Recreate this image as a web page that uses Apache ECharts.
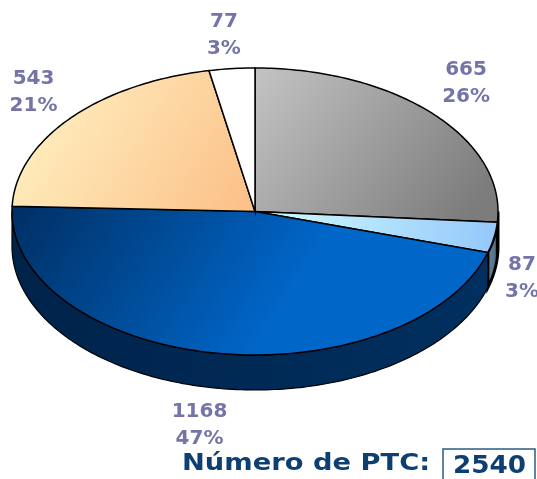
<!DOCTYPE html>
<html>
<head>
<meta charset="utf-8">
<style>html,body{margin:0;padding:0;background:#fff}#c{width:537px;height:479px}</style>
<script src="https://cdn.jsdelivr.net/npm/echarts@6/dist/echarts.min.js"></script>
</head>
<body>
<div id="c"></div>
<script>
const values = [665, 87, 1168, 543, 77];
const percents = ['26%', '3%', '47%', '21%', '3%'];
const totalLabel = 'Número de PTC:';
const totalValue = '2540';

const topColors = [['#c4c4c4', '#7c7c7c'], ['#d2fcff', '#94c8fa'], ['#002f63', '#0066c8'], ['#fff6c8', '#fcc088'], ['#ffffff', '#ffffff']];
const topVectors = [[0.85, 1], [1, 0.6], [0.5, 1], [0.95, 1], [1, 1]];
const wallColors = [['#000000', '#000000'], ['#6a8aa0', '#4a6478'], ['#00234a', '#003060'], ['#000', '#000'], ['#000', '#000']];
const wallStrokes = [3, 3, 1.2, 1.2, 1.2];
const labelOffsets = [[33, -31], [28, 41], [-16, 72], [-37, -26], [-8, -33]];

const sum = values.reduce((a, b) => a + b, 0);
const CX = 255, CY = 211.5, RX = 243, RY = 143.5, DEPTH = 35;
const pt = (deg, dy) => {
  const r = deg * Math.PI / 180;
  return [CX + RX * Math.sin(r), CY - RY * Math.cos(r) + (dy || 0)];
};
const arc = (a, b, dy) => {
  const out = [], n = Math.max(2, Math.ceil(Math.abs(b - a)));
  for (let i = 0; i <= n; i++) out.push(pt(a + (b - a) * i / n, dy));
  return out;
};
const grad = (c, v) => new echarts.graphic.LinearGradient(0, 0, v[0], v[1], [
  { offset: 0, color: c[0] }, { offset: 1, color: c[1] }
]);

function renderItem(params, api) {
  const i = params.dataIndex;
  let start = 0;
  for (let k = 0; k < i; k++) start += values[k] / sum * 360;
  const end = start + api.value(0) / sum * 360;
  const children = [];
  const wa = Math.max(start, 90), wb = Math.min(end, 270);
  if (wb > wa) {
    children.push({
      type: 'polygon',
      shape: { points: arc(wa, wb, 0).concat(arc(wb, wa, DEPTH)) },
      style: { fill: grad(wallColors[i], [1, 0]), stroke: '#000', lineWidth: wallStrokes[i] }
    });
  }
  children.push({
    type: 'polygon',
    shape: { points: [[CX, CY]].concat(arc(start, end, 0)) },
    style: { fill: grad(topColors[i], topVectors[i]), stroke: '#000', lineWidth: 1.5 }
  });
  const mid = pt((start + end) / 2, 0);
  const off = labelOffsets[i];
  children.push({
    type: 'text',
    z2: 10,
    style: {
      x: mid[0] + off[0], y: mid[1] + off[1],
      text: api.value(0) + '\n' + percents[i],
      fill: '#7474a8',
      font: 'bold 20px "DejaVu Sans"',
      lineHeight: 27,
      align: 'center', verticalAlign: 'middle'
    }
  });
  return { type: 'group', children };
}

const chart = echarts.init(document.getElementById('c'), null, { renderer: 'canvas' });
chart.setOption({
  animation: false,
  backgroundColor: '#ffffff',
  series: [{
    type: 'custom',
    coordinateSystem: 'none',
    renderItem,
    data: values.map(v => [v]),
    silent: true
  }],
  graphic: [
    { type: 'text', x: 182, y: 453, scaleX: 1.187, style: { text: totalLabel, fill: '#0e3f72', font: 'bold 23px "DejaVu Sans"' } },
    { type: 'rect', x: 443, y: 449, shape: { width: 92, height: 33 }, style: { fill: '#fff', stroke: '#2a5c82', lineWidth: 1.5 } },
    { type: 'text', x: 453, y: 454, scaleX: 1.05, z: 10, style: { text: totalValue, fill: '#0e3f72', font: 'bold 25px "DejaVu Sans"' } }
  ]
});
</script>
</body>
</html>
